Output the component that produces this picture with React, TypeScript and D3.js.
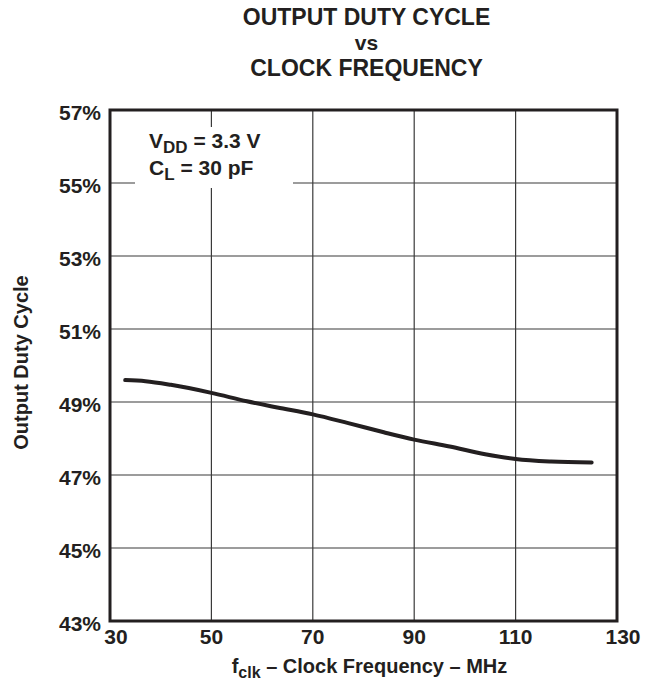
import * as d3 from "d3";

const WIDTH = 656;
const HEIGHT = 685;
const MARGIN = { top: 110, right: 39, bottom: 64, left: 110 };

// clock frequency (MHz) and output duty cycle (%)
const freqMHz = [33, 37, 42, 50, 57, 63, 70, 77, 84, 90, 97, 104, 110, 117, 125];
const dutyPct = [49.6, 49.57, 49.47, 49.25, 49.02, 48.85, 48.66, 48.42, 48.17, 47.97, 47.78, 47.57, 47.44, 47.37, 47.34];

const xTicks = [30, 50, 70, 90, 110, 130];
const yTicks = [43, 45, 47, 49, 51, 53, 55, 57];
const titleLines = ["OUTPUT DUTY CYCLE", "vs", "CLOCK FREQUENCY"];

const INK = "#231f20";
const FONT = "'Liberation Sans', Arial, Helvetica, sans-serif";

export default function App() {
  const boundsWidth = WIDTH - MARGIN.left - MARGIN.right;
  const boundsHeight = HEIGHT - MARGIN.top - MARGIN.bottom;

  const xScale = d3.scaleLinear().domain([30, 130]).range([0, boundsWidth]);
  const yScale = d3.scaleLinear().domain([43, 57]).range([boundsHeight, 0]);

  const points: [number, number][] = freqMHz.map((f, i) => [f, dutyPct[i]]);
  const line = d3
    .line<[number, number]>()
    .x((d) => xScale(d[0]))
    .y((d) => yScale(d[1]))
    .curve(d3.curveMonotoneX);

  const cx = MARGIN.left + boundsWidth / 2;

  return (
    <svg
      width={WIDTH}
      height={HEIGHT}
      style={{ position: "absolute", left: 0, top: 0, background: "#fff" }}
      fontFamily={FONT}
      fontWeight="bold"
      fill={INK}
    >
      {/* title */}
      {titleLines.map((t, i) => (
        <text key={t} x={cx + 3} y={[25, 50, 76][i]} textAnchor="middle" fontSize={i === 1 ? 21 : 23}>
          {t}
        </text>
      ))}

      <g transform={`translate(${MARGIN.left},${MARGIN.top})`}>
        {/* grid */}
        {xTicks.slice(1, -1).map((v) => (
          <line key={v} x1={xScale(v)} x2={xScale(v)} y1={0} y2={boundsHeight} stroke="#3a3a3a" strokeWidth={1.2} />
        ))}
        {yTicks.slice(1, -1).map((v) => (
          <line key={v} x1={0} x2={boundsWidth} y1={yScale(v)} y2={yScale(v)} stroke="#3a3a3a" strokeWidth={1.2} />
        ))}

        {/* legend box hides the grid behind it */}
        <rect x={25} y={17} width={158} height={61} fill="#fff" />
        <text x={39} y={38} fontSize={21}>
          V<tspan fontSize={17} dy={5}>DD</tspan>
          <tspan dy={-5}> = 3.3 V</tspan>
        </text>
        <text x={39} y={65} fontSize={21}>
          C<tspan fontSize={17} dy={5}>L</tspan>
          <tspan dy={-5}> = 30 pF</tspan>
        </text>

        {/* curve */}
        <path d={line(points) ?? ""} fill="none" stroke={INK} strokeWidth={4} strokeLinecap="round" />

        {/* frame */}
        <rect x={0} y={0} width={boundsWidth} height={boundsHeight} fill="none" stroke={INK} strokeWidth={3} />

        {/* y tick labels */}
        {yTicks.map((v) => (
          <text key={v} x={-9} y={yScale(v) + 10} textAnchor="end" fontSize={21}>
            {v}%
          </text>
        ))}

        {/* x tick labels */}
        {xTicks.map((v, i) => (
          <text
            key={v}
            x={xScale(v) + (i === 0 || i === xTicks.length - 1 ? 6 : 0)}
            y={boundsHeight + 23}
            textAnchor="middle"
            fontSize={21}
          >
            {v}
          </text>
        ))}
      </g>

      {/* axis titles */}
      <text x={cx + 6} y={673} textAnchor="middle" fontSize={20}>
        f<tspan fontSize={16} dy={5}>clk</tspan>
        <tspan dy={-5}> – Clock Frequency – MHz</tspan>
      </text>
      <text transform={`translate(28,${MARGIN.top + boundsHeight / 2 - 3}) rotate(-90)`} textAnchor="middle" fontSize={20}>
        Output Duty Cycle
      </text>
    </svg>
  );
}
